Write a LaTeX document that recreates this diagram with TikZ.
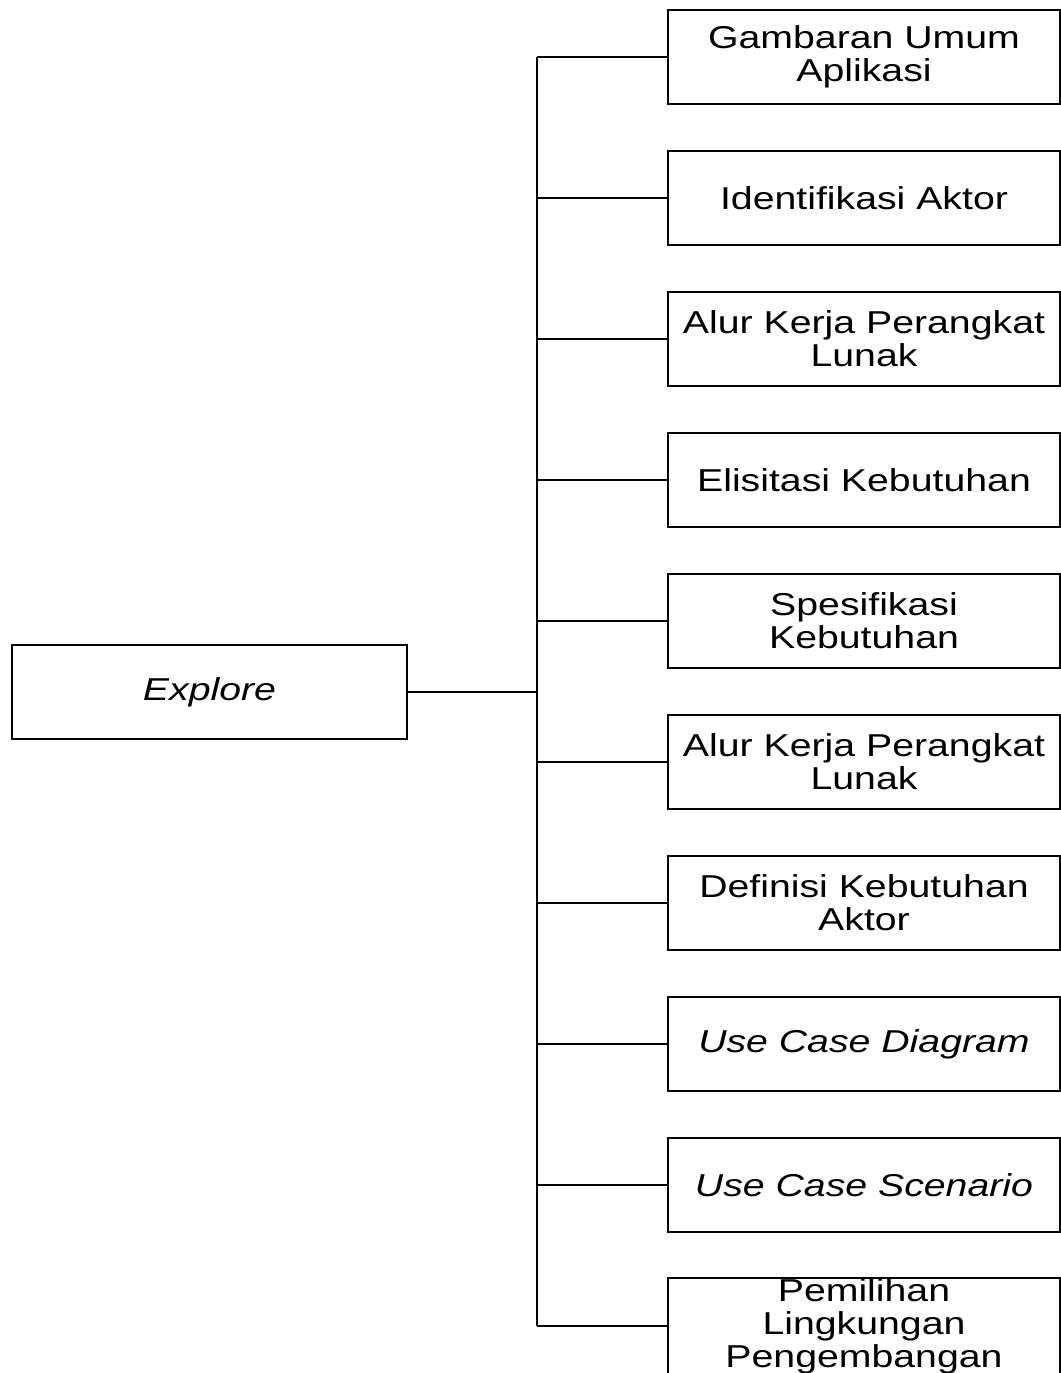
\documentclass[tikz,border=0pt]{standalone}
\usepackage{fontspec}
\setmainfont{Liberation Sans}[FakeStretch=1.24]
\begin{document}
\begin{tikzpicture}[x=0.01cm,y=-0.01cm,
		kotak/.style={draw,line width=0.7pt,minimum width=3.92cm,minimum height=0.94cm,align=center,inner sep=0pt,font=\fontsize{9}{9.4}\selectfont},
		garis/.style={line width=0.7pt}]
		\useasboundingbox (0,0) rectangle (1061,1373);
		\node[kotak,minimum width=3.95cm] (explore) at (209.5,692) {\itshape Explore};
		\foreach \nama/\teks [count=\i from 0] in {gambaran/Gambaran Umum\\Aplikasi, aktor/Identifikasi Aktor, alurA/Alur Kerja Perangkat\\Lunak, elisitasi/Elisitasi Kebutuhan, spesifikasi/Spesifikasi\\Kebutuhan, alurB/Alur Kerja Perangkat\\Lunak, definisi/Definisi Kebutuhan\\Aktor, diagram/\textit{Use Case Diagram}, skenario/\textit{Use Case Scenario}, pemilihan/Pemilihan\\Lingkungan\\Pengembangan}
		{
			\node[kotak] (\nama) at (864,57+141*\i) {\teks};
			\coordinate (t\nama) at (537,57+141*\i);
			\draw[garis] (t\nama) -- (\nama);
		}
		\coordinate (cabang) at (537,692);
		\draw[garis] (explore) -- (cabang);
		\draw[garis] (tgambaran) -- (tpemilihan);
\end{tikzpicture}
\end{document}
